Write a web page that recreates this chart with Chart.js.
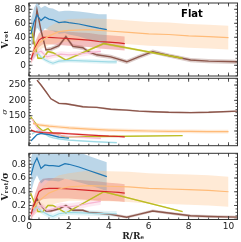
<!DOCTYPE html>
<html>
<head>
<meta charset="utf-8">
<script src="https://cdn.jsdelivr.net/npm/chart.js@4.4.1/dist/chart.umd.min.js"></script>
<style>
  body { margin: 0; background: #fff; }
  canvas { position: absolute; left: 0; }
</style>
</head>
<body>
<canvas id="vrotChart" width="241" height="78" style="top:0px"></canvas>
<canvas id="sigmaChart" width="241" height="72" style="top:76px"></canvas>
<canvas id="ratioChart" width="241" height="92" style="top:150px"></canvas>
<script>
// radii (R/Re) and profiles, one galaxy per colour
var rBlue = [0.1, 0.25, 0.4, 0.6, 0.8, 1.0, 1.2, 1.5, 1.8, 2.0, 2.5, 3.0, 3.5, 3.9];
var vBlue = [45, 62, 72, 64, 69, 66, 65, 61, 62, 61, 59, 56, 53, 51];
var vBlueErr = [20, 20, 18, 18, 16, 16, 16, 16, 16, 17, 18, 19, 20, 22];
var sBlue = [68, 78, 88, 92, 90, 88, 85, 80, 78, 77, null, null, null, null];
var sBlueErr = [3, 3, 3, 3, 3, 3, 3, 3, 3, 3, 3, 3, 3, 3];
var qBlue = [0.64, 0.8, 0.89, 0.74, 0.79, 0.78, 0.78, 0.77, 0.81, 0.8, 0.76, 0.71, 0.66, 0.62];
var qBlueErr = [0.25, 0.25, 0.25, 0.22, 0.22, 0.22, 0.22, 0.22, 0.22, 0.22, 0.22, 0.21, 0.21, 0.21];

var rOrange = [0.2, 0.5, 1.0, 1.5, 2.0, 3.0, 4.0, 5.0, 6.0, 7.0, 8.0, 9.0, 10.0];
var vOrange = [18, 32, 42, 48, 50, 51, 49, 47, 45, 44, 42, 41, 39.5];
var vOrangeErr = [8, 10, 13, 15, 16, 16, 17, 17, 17, 17, 17, 17, 17];
var sOrange = [125, 120, 116, 113, 110, 106, 103, 101, 100, 99, 98.5, 98, 98];
var sOrangeErr = [5, 5, 6, 6, 6, 6, 6, 6, 6, 6, 6, 6, 6];
var qOrange = [0.15, 0.27, 0.38, 0.44, 0.47, 0.49, 0.48, 0.47, 0.45, 0.44, 0.43, 0.42, 0.4];
var qOrangeErr = [0.1, 0.15, 0.18, 0.2, 0.2, 0.22, 0.22, 0.22, 0.22, 0.22, 0.22, 0.22, 0.22];

var rRed = [0.1, 0.3, 0.5, 0.7, 1.0, 1.5, 2.0, 2.5, 3.0, 3.5, 4.0, 4.5, 4.8];
var vRed = [8, 25, 36, 40, 40, 39, 38, 37, 36, 34, 33, 32, 31];
var vRedErr = [6, 8, 10, 10, 10, 10, 10, 10, 10, 10, 10, 10, 10];
var sRed = [103, 98, 96, 95, 94, 93, 91, 89, 87, 85, 83, 82, 81];
var sRedErr = [3, 3, 3, 3, 3, 3, 3, 3, 3, 3, 3, 3, 3];
var qRed = [0.07, 0.25, 0.4, 0.44, 0.45, 0.45, 0.44, 0.43, 0.42, 0.41, 0.4, 0.39, 0.38];
var qRedErr = [0.08, 0.12, 0.14, 0.15, 0.15, 0.15, 0.14, 0.14, 0.14, 0.14, 0.13, 0.13, 0.13];

var rBrown = [0.2, 0.4, 0.6, 0.85, 1.1, 1.5, 1.85, 2.2, 2.7, 3.0, 3.4, 4.1, 4.9, 5.5, 6.2, 7.0, 8.1, 9.0, 10.5];
var vBrown = [30, 79, 50, 22, 23, 28, 41, 27, 25, 19, 15, 12, 5, 12, 19.5, 14, 7.5, 6, 5];
var vBrownErr = [3, 3, 3, 3, 3, 3, 3, 3, 3, 3, 3, 3, 3, 3, 3, 3, 3, 3, 3];
var sBrown = [null, 266, 250, 228, 205, 190, 189, 185, 179, 178, 177, 171, 168, 165, 163, 161, 160, 161, 165];
var sBrownErr = [3, 3, 3, 3, 3, 3, 3, 3, 3, 3, 3, 3, 3, 3, 3, 3, 3, 3, 3];
var qBrown = [0.18, 0.3, 0.2, 0.12, 0.12, 0.15, 0.2, 0.13, 0.13, 0.1, 0.09, 0.07, 0.03, 0.07, 0.12, 0.09, 0.05, 0.04, 0.03];
var qBrownErr = [0.02, 0.02, 0.02, 0.02, 0.02, 0.02, 0.02, 0.02, 0.02, 0.02, 0.02, 0.02, 0.02, 0.02, 0.02, 0.02, 0.02, 0.02, 0.02];

var rOlive = [0.08, 0.45, 0.7, 0.95, 1.2, 1.85, 3.75, 7.7];
var vOlive = [55, 10, 10, 19.5, 18, 7.5, 31, 10];
var vOliveErr = [1.5, 1.5, 1.5, 1.5, 1.5, 1.5, 1.5, 1.5];
var sOlive = [147, 114, 100, 108, 92, 81, 82, 85];
var sOliveErr = [1.5, 1.5, 1.5, 1.5, 1.5, 1.5, 1.5, 1.5];
var qOlive = [0.38, 0.11, 0.11, 0.2, 0.2, 0.09, 0.4, 0.11];
var qOliveErr = [0.01, 0.01, 0.01, 0.01, 0.01, 0.01, 0.01, 0.01];

var rPink = [0.15, 0.4, 0.6, 0.9, 1.2, 1.6, 2.0, 2.5, 3.0, 3.6];
var vPink = [8, 18, 20, 12, 14, 16, 15, 16, 18, 20];
var vPinkErr = [4, 4, 4, 4, 4, 4, 4, 4, 4, 4];
var sPink = [140, 110, 100, 95, 90, 85, 82, 80, 78, 76];
var sPinkErr = [4, 4, 4, 4, 4, 4, 4, 4, 4, 4];
var qPink = [0.06, 0.16, 0.2, 0.13, 0.15, 0.19, 0.18, 0.2, 0.23, 0.26];
var qPinkErr = [0.05, 0.05, 0.05, 0.05, 0.05, 0.05, 0.05, 0.05, 0.05, 0.05];

var rCyan = [0.15, 0.4, 0.6, 0.8, 1.0, 1.2, 1.5, 2.0, 3.0, 4.0, 4.4];
var vCyan = [10, 18, 12, 8, 5, 3, 6, 7, 6, 5, 5];
var vCyanErr = [3, 3, 3, 3, 3, 3, 3, 3, 3, 3, 3];
var sCyan = [90, 100, 98, 90, 82, 78, 74, 70, 66, 63, 62];
var sCyanErr = [3, 3, 3, 3, 3, 3, 3, 3, 3, 3, 3];
var qCyan = [0.11, 0.18, 0.12, 0.09, 0.06, 0.04, 0.08, 0.1, 0.09, 0.08, 0.08];
var qCyanErr = [0.04, 0.04, 0.04, 0.04, 0.04, 0.04, 0.04, 0.04, 0.04, 0.04, 0.04];

var xTicks = [0, 2, 4, 6, 8, 10];
var vTicks = [0, 20, 40, 60, 80];
var sTicks = [100, 150, 200, 250];
var qTicks = [0.0, 0.2, 0.4, 0.6, 0.8];

var colors = {
  blue: ['#1f77b4', 'rgba(31,119,180,0.3)'],
  orange: ['#ffbb78', 'rgba(255,187,120,0.3)'],
  red: ['#d62728', 'rgba(214,39,40,0.3)'],
  brown: ['#8c564b', 'rgba(140,86,75,0.3)'],
  olive: ['#bcbd22', 'rgba(188,189,34,0.35)'],
  pink: ['#f7b6d2', 'rgba(247,182,210,0.3)'],
  cyan: ['#9edae5', 'rgba(158,218,229,0.3)']
};

// line + shaded band (upper fills down to lower)
function addSeries(sets, r, y, err, col, lw) {
  var pts = [], up = [], lo = [];
  for (var i = 0; i < r.length; i++) {
    if (y[i] == null) continue;
    pts.push({x: r[i], y: y[i]});
    up.push({x: r[i], y: y[i] + err[i]});
    lo.push({x: r[i], y: y[i] - err[i]});
  }
  sets.push({data: up, borderWidth: 0, pointRadius: 0, backgroundColor: col[1], fill: '+1', order: 2});
  sets.push({data: lo, borderWidth: 0, pointRadius: 0, fill: false, order: 2});
  sets.push({data: pts, borderColor: col[0], borderWidth: lw || 1.2, pointRadius: 0, fill: false, order: 1});
}

var frame = {
  id: 'frame',
  afterDraw: function (chart) {
    var o = chart.options.plugins.frame;
    var ctx = chart.ctx, a = chart.chartArea;
    var xs = chart.scales.x, ys = chart.scales.y;
    ctx.save();
    ctx.strokeStyle = '#333';
    ctx.lineWidth = 0.8;
    function tick(v, len, isX) {
      ctx.beginPath();
      if (isX) {
        var px = xs.getPixelForValue(v);
        ctx.moveTo(px, a.bottom); ctx.lineTo(px, a.bottom - len);
        ctx.moveTo(px, a.top); ctx.lineTo(px, a.top + len);
      } else {
        var py = ys.getPixelForValue(v);
        ctx.moveTo(a.left, py); ctx.lineTo(a.left + len, py);
        ctx.moveTo(a.right, py); ctx.lineTo(a.right - len, py);
      }
      ctx.stroke();
    }
    var v;
    for (v = 0; v <= xs.max; v += 0.5) tick(v, 2, true);
    xTicks.forEach(function (t) { tick(t, 3.5, true); });
    for (v = Math.ceil(ys.min / o.minor) * o.minor; v <= ys.max; v += o.minor) tick(v, 2, false);
    o.major.forEach(function (t) { tick(t, 3.5, false); });
    ctx.lineWidth = 1;
    ctx.strokeRect(a.left, a.top, a.right - a.left, a.bottom - a.top);
    if (o.label) {
      ctx.fillStyle = '#000';
      ctx.font = 'bold 10px "DejaVu Sans"';
      ctx.textAlign = 'center';
      ctx.textBaseline = 'middle';
      ctx.fillText(o.label, 192, 14);
    }
    ctx.restore();
  }
};

function makePanel(id, sets, yMin, yMax, yTicks, minor, yTitle, titleFont, pad, showX, fmt, label) {
  return new Chart(document.getElementById(id), {
    type: 'line',
    data: {datasets: sets},
    plugins: [frame],
    options: {
      responsive: false,
      animation: false,
      layout: {padding: pad},
      plugins: {
        legend: {display: false},
        tooltip: {enabled: false},
        frame: {major: yTicks, minor: minor, label: label}
      },
      scales: {
        x: {
          type: 'linear', min: 0, max: 10.45,
          display: showX,
          grid: {display: false, drawTicks: false},
          border: {display: false},
          afterBuildTicks: function (s) { s.ticks = xTicks.map(function (t) { return {value: t}; }); },
          afterFit: function (s) {
            if (showX) s.height = 22.5;
            s.paddingLeft = 0; s.paddingRight = 0;
          },
          ticks: {font: {family: 'DejaVu Sans', size: 9}, color: '#222', padding: 2,
                  maxRotation: 0, autoSkip: false},
          title: {display: true, text: 'R/Rₑ', padding: 0,
                  font: {family: 'DejaVu Serif', size: 9, weight: 'bold'}, color: '#222'}
        },
        y: {
          min: yMin, max: yMax,
          grid: {display: false, drawTicks: false},
          border: {display: false},
          afterBuildTicks: function (s) { s.ticks = yTicks.map(function (t) { return {value: t}; }); },
          afterFit: function (s) { s.width = 29; s.paddingTop = 0; s.paddingBottom = 0; },
          ticks: {font: {family: 'DejaVu Sans', size: 9}, color: '#222', padding: 3, autoSkip: false,
                  callback: fmt},
          title: {display: true, text: yTitle, padding: 0, font: titleFont, color: '#222'}
        }
      }
    }
  });
}

var vSets = [], sSets = [], qSets = [];
addSeries(vSets, rOrange, vOrange, vOrangeErr, colors.orange);
addSeries(vSets, rBlue, vBlue, vBlueErr, colors.blue);
addSeries(vSets, rRed, vRed, vRedErr, colors.red);
addSeries(vSets, rPink, vPink, vPinkErr, colors.pink);
addSeries(vSets, rCyan, vCyan, vCyanErr, colors.cyan);
addSeries(vSets, rOlive, vOlive, vOliveErr, colors.olive, 1.4);
addSeries(vSets, rBrown, vBrown, vBrownErr, colors.brown, 1.4);

addSeries(sSets, rOrange, sOrange, sOrangeErr, colors.orange);
addSeries(sSets, rBlue, sBlue, sBlueErr, colors.blue);
addSeries(sSets, rRed, sRed, sRedErr, colors.red);
addSeries(sSets, rPink, sPink, sPinkErr, colors.pink);
addSeries(sSets, rCyan, sCyan, sCyanErr, colors.cyan);
addSeries(sSets, rOlive, sOlive, sOliveErr, colors.olive, 1.4);
addSeries(sSets, rBrown, sBrown, sBrownErr, colors.brown, 1.4);

addSeries(qSets, rOrange, qOrange, qOrangeErr, colors.orange);
addSeries(qSets, rBlue, qBlue, qBlueErr, colors.blue);
addSeries(qSets, rRed, qRed, qRedErr, colors.red);
addSeries(qSets, rPink, qPink, qPinkErr, colors.pink);
addSeries(qSets, rCyan, qCyan, qCyanErr, colors.cyan);
addSeries(qSets, rOlive, qOlive, qOliveErr, colors.olive, 1.4);
addSeries(qSets, rBrown, qBrown, qBrownErr, colors.brown, 1.4);

function plain(v) { return String(v); }
var boldSerif = {family: 'DejaVu Serif', size: 9, weight: 'bold'};
makePanel('vrotChart', vSets, -15.3, 89, vTicks, 5, 'Vᵣₒₜ', boldSerif,
  {top: 3, bottom: 2, right: 3.5, left: 0}, false, plain, 'Flat');
makePanel('sigmaChart', sSets, 52, 272, sTicks, 10, 'σ',
  {family: 'DejaVu Serif', size: 8, style: 'italic'},
  {top: 2.3, bottom: 2.3, right: 3.5, left: 0}, false, plain, null);
makePanel('ratioChart', qSets, -0.004, 0.96, qTicks, 0.05, 'Vᵣₒₜ/σ', boldSerif,
  {top: 3.3, bottom: 0, right: 3.5, left: 0}, true,
  function (v) { return v.toFixed(1); }, null);
</script>
</body>
</html>
